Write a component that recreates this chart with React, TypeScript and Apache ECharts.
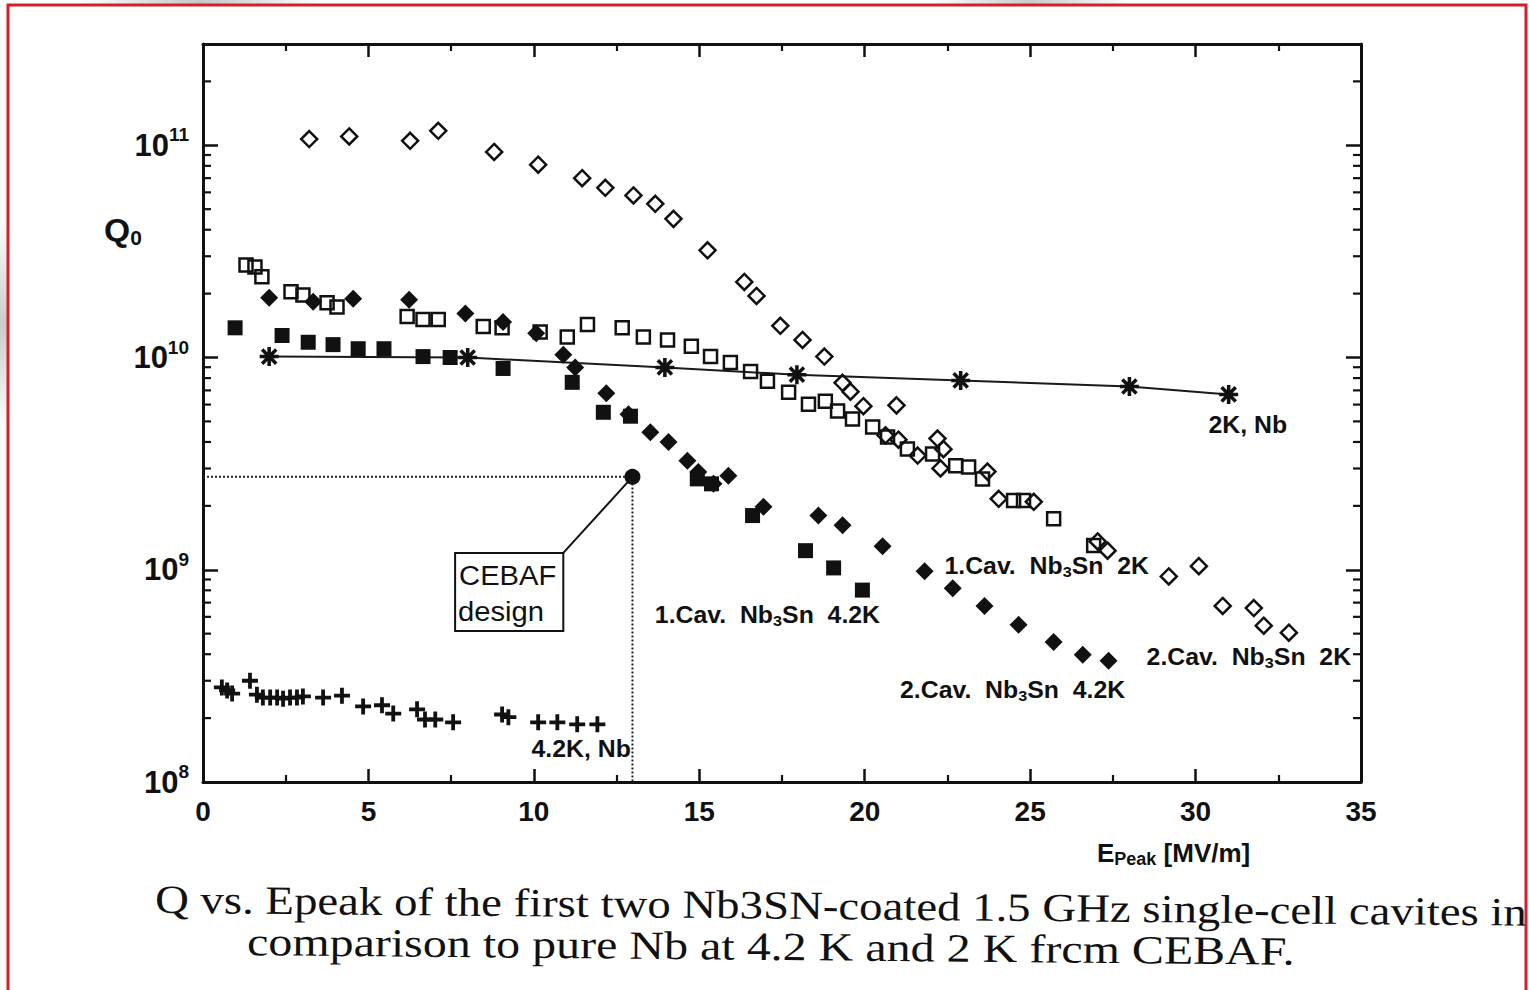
import { useEffect, useRef } from 'react';
import * as echarts from 'echarts';

const SANS = '"Liberation Sans", Arial, Helvetica, sans-serif';
const SERIF = '"Liberation Serif", "Times New Roman", Times, serif';
const INK = '#111111';

// Axis ranges
const E_MIN = 0;
const E_MAX = 35;
const E_STEP = 5;
const Q_MIN = 1e8;
const Q_MAX = 3e11;
const DECADE_MULTIPLIERS = [2, 3, 4, 5, 6, 7, 8, 9];

// [E_peak (MV/m), Q0]
// 2nd cavity, Nb3Sn, 2 K (open diamonds)
const cav2At2K: [number, number][] = [
  [3.21, 1.07e11], [4.42, 1.1e11], [6.26, 1.05e11], [7.11, 1.17e11], [8.8, 9.3e10],
  [10.13, 8.1e10], [11.46, 7.0e10], [12.16, 6.3e10], [13.01, 5.8e10], [13.67, 5.3e10],
  [14.22, 4.5e10], [15.25, 3.2e10], [16.36, 2.27e10], [16.73, 1.95e10], [17.45, 1.41e10],
  [18.12, 1.21e10], [18.78, 1.01e10], [19.33, 7.6e9], [19.57, 6.9e9], [19.96, 5.9e9],
  [20.96, 5.95e9], [20.63, 4.3e9], [21.02, 4.1e9], [21.6, 3.45e9], [22.2, 4.15e9],
  [22.38, 3.7e9], [22.29, 3.0e9], [23.71, 2.9e9], [24.05, 2.16e9], [25.11, 2.09e9],
  [27.04, 1.36e9], [27.34, 1.23e9], [29.19, 9.3e8], [30.1, 1.04e9], [30.82, 6.75e8],
  [31.76, 6.6e8], [32.06, 5.45e8], [32.82, 5.05e8],
];

// 1st cavity, Nb3Sn, 2 K (open squares)
const cav1At2K: [number, number][] = [
  [1.3, 2.73e10], [1.57, 2.67e10], [1.78, 2.4e10], [2.66, 2.04e10], [3.02, 1.97e10],
  [3.75, 1.81e10], [4.05, 1.73e10], [6.17, 1.56e10], [6.65, 1.51e10], [7.11, 1.51e10],
  [8.47, 1.4e10], [9.04, 1.38e10], [10.19, 1.32e10], [11.01, 1.25e10], [11.62, 1.43e10],
  [12.67, 1.38e10], [13.31, 1.25e10], [14.04, 1.21e10], [14.76, 1.13e10], [15.34, 1.01e10],
  [15.94, 9.47e9], [16.55, 8.6e9], [17.06, 7.72e9], [17.7, 6.86e9], [18.3, 6.02e9],
  [18.81, 6.22e9], [19.18, 5.59e9], [19.63, 5.13e9], [20.24, 4.7e9], [20.69, 4.22e9],
  [21.29, 3.71e9], [22.05, 3.51e9], [22.75, 3.09e9], [23.14, 3.05e9], [23.56, 2.68e9],
  [24.5, 2.12e9], [24.8, 2.12e9], [25.71, 1.74e9], [26.92, 1.3e9],
];

// 2nd cavity, Nb3Sn, 4.2 K (filled diamonds)
const cav2At42K: [number, number][] = [
  [2.0, 1.91e10], [3.33, 1.83e10], [4.54, 1.89e10], [6.23, 1.87e10], [7.93, 1.61e10],
  [9.07, 1.47e10], [10.07, 1.3e10], [10.89, 1.03e10], [11.25, 8.98e9], [12.19, 6.78e9],
  [12.86, 5.41e9], [13.52, 4.45e9], [14.07, 4.0e9], [14.64, 3.26e9], [14.97, 2.89e9],
  [15.43, 2.54e9], [15.88, 2.77e9], [16.94, 1.98e9], [18.6, 1.8e9], [19.33, 1.62e9],
  [20.54, 1.29e9], [21.81, 9.85e8], [22.66, 8.19e8], [23.62, 6.75e8], [24.65, 5.5e8],
  [25.71, 4.57e8], [26.59, 3.98e8], [27.37, 3.73e8],
];

// 1st cavity, Nb3Sn, 4.2 K (filled squares)
const cav1At42K: [number, number][] = [
  [0.97, 1.38e10], [2.39, 1.27e10], [3.18, 1.18e10], [3.93, 1.15e10], [4.69, 1.1e10],
  [5.47, 1.1e10], [6.65, 1.01e10], [7.47, 1.0e10], [9.07, 8.88e9], [11.16, 7.64e9],
  [12.1, 5.52e9], [12.92, 5.29e9], [14.94, 2.68e9], [15.37, 2.54e9], [16.61, 1.8e9],
  [18.21, 1.23e9], [19.06, 1.02e9], [19.93, 8.02e8],
];

// Pure Nb, 4.2 K (plus markers)
const nbAt42K: [number, number][] = [
  [0.57, 2.79e8], [0.73, 2.7e8], [0.88, 2.61e8], [1.42, 3.0e8], [1.63, 2.58e8],
  [1.81, 2.5e8], [2.03, 2.5e8], [2.24, 2.5e8], [2.42, 2.47e8], [2.63, 2.5e8],
  [2.84, 2.5e8], [3.02, 2.53e8], [3.63, 2.5e8], [4.2, 2.55e8], [4.84, 2.27e8],
  [5.41, 2.3e8], [5.75, 2.1e8], [6.47, 2.2e8], [6.71, 1.97e8], [7.02, 1.97e8],
  [7.56, 1.91e8], [9.04, 2.08e8], [9.23, 2.02e8], [10.13, 1.91e8], [10.71, 1.91e8],
  [11.31, 1.87e8], [11.92, 1.87e8],
];

// Pure Nb, 2 K (asterisks joined by a line)
const nbAt2K: [number, number][] = [
  [2.0, 1.01e10], [8.0, 1.0e10], [13.96, 8.98e9], [17.95, 8.3e9],
  [22.9, 7.8e9], [28.0, 7.3e9], [31.0, 6.7e9],
];

// CEBAF design goal
const cebafDesign: [number, number] = [12.98, 2.74e9];
const cebafLabel = ['CEBAF', 'design'];
// box corners [E, Q] (top-left, bottom-right) and the arrow from the box to the design point
const cebafBox: [number, number, number, number] = [7.62, 1.2e9, 10.89, 5.15e8];
const cebafArrow: [[number, number], [number, number]] = [[10.89, 1.2e9], [12.85, 2.6e9]];

// Curve annotations, centred at [E, Q]
const curveLabels: { text: string; at: [number, number] }[] = [
  { text: '2K, Nb', at: [31.58, 4.8e9] },
  { text: '1.Cav.  Nb3Sn  2K', at: [25.5, 1.04e9] },
  { text: '2.Cav.  Nb3Sn  2K', at: [31.61, 3.89e8] },
  { text: '2.Cav.  Nb3Sn  4.2K', at: [24.47, 2.73e8] },
  { text: '1.Cav.  Nb3Sn  4.2K', at: [17.06, 6.12e8] },
  { text: '4.2K, Nb', at: [11.43, 1.43e8] },
];

const captionLines = [
  'Q vs. Epeak of the first two Nb3SN-coated 1.5 GHz single-cell cavites in',
  'comparison to pure Nb at 4.2 K and 2 K frcm CEBAF.',
];

// Log-axis minor tick positions (2..9 × 10^n)
const minorTickValues: number[] = [];
for (let d = Math.log10(Q_MIN); d <= 11; d++) {
  for (const m of DECADE_MULTIPLIERS) {
    const v = m * Math.pow(10, d);
    if (v < Q_MAX) minorTickValues.push(v);
  }
}

const PLUS = 'path://M6.1,0H9.9V6.1H16V9.9H9.9V16H6.1V9.9H0V6.1H6.1Z';
const STAR =
  'path://M0,6.5H16V9.5H0Z M6.5,0H9.5V16H6.5Z M1.0,3.1L3.1,1.0L15.0,12.9L12.9,15.0Z M12.9,1.0L15.0,3.1L3.1,15.0L1.0,12.9Z';

const openStyle = { color: 'rgba(0,0,0,0)', borderColor: INK, borderWidth: 2.5, opacity: 1 };
const filledStyle = { color: INK, opacity: 1 };

const axisLine = { show: true, onZero: false, lineStyle: { color: INK, width: 3 } };

function buildOption(): echarts.EChartsOption {
  const xAxisBase = {
    type: 'value' as const,
    min: E_MIN,
    max: E_MAX,
    interval: E_STEP,
    axisLine,
    axisTick: { show: true, inside: true, length: 13, lineStyle: { color: INK, width: 2.5 } },
    minorTick: { show: true, splitNumber: 2, length: 7, lineStyle: { color: INK, width: 2.2 } },
    splitLine: { show: false },
  };
  const yAxisBase = {
    type: 'log' as const,
    logBase: 10,
    min: Q_MIN,
    max: Q_MAX,
    axisLine,
    axisTick: { show: true, inside: true, length: 15, lineStyle: { color: INK, width: 2.5 } },
    splitLine: { show: false },
    minorTick: { show: false },
  };

  return {
    animation: false,
    backgroundColor: '#ffffff',
    grid: { left: 203, right: 168, top: 44, bottom: 208, containLabel: false },
    xAxis: [
      {
        ...xAxisBase,
        position: 'bottom',
        axisLabel: {
          show: true,
          margin: 15,
          color: INK,
          fontFamily: SANS,
          fontWeight: 'bold',
          fontSize: 28,
        },
      },
      { ...xAxisBase, position: 'top', axisLabel: { show: false } },
    ],
    yAxis: [
      {
        ...yAxisBase,
        position: 'left',
        axisLabel: {
          show: true,
          margin: 14,
          formatter: (v: number) => {
            const e = Math.log10(v);
            const r = Math.round(e);
            if (Math.abs(e - r) > 1e-6) return '';
            return `{b|10}{p|${r}}`;
          },
          rich: {
            b: { fontSize: 31, fontWeight: 'bold', fontFamily: SANS, color: INK, lineHeight: 40 },
            p: {
              fontSize: 19,
              fontWeight: 'bold',
              fontFamily: SANS,
              color: INK,
              verticalAlign: 'top',
              lineHeight: 19,
            },
          },
        },
      },
      { ...yAxisBase, position: 'right', axisLabel: { show: false } },
    ],
    series: [
      {
        name: 'CEBAF guide',
        type: 'line',
        data: [[E_MIN, cebafDesign[1]], cebafDesign, [cebafDesign[0], Q_MIN]],
        symbol: 'none',
        silent: true,
        lineStyle: { type: 'dotted', width: 2, color: '#222' },
        z: 1,
      },
      {
        name: 'Log minor ticks',
        type: 'custom',
        silent: true,
        data: minorTickValues.map((v) => [E_MIN, v]),
        encode: { x: 0, y: 1 },
        renderItem: (params: any, api: any) => {
          const p = api.coord([E_MIN, api.value(1)]);
          const cs = params.coordSys;
          const len = 8;
          return {
            type: 'group',
            children: [
              {
                type: 'line',
                shape: { x1: cs.x, y1: p[1], x2: cs.x + len, y2: p[1] },
                style: { stroke: INK, lineWidth: 2.2 },
              },
              {
                type: 'line',
                shape: { x1: cs.x + cs.width - len, y1: p[1], x2: cs.x + cs.width, y2: p[1] },
                style: { stroke: INK, lineWidth: 2.2 },
              },
            ],
          };
        },
        z: 2,
      },
      {
        name: '2K, Nb',
        type: 'line',
        data: nbAt2K,
        symbol: STAR,
        symbolSize: 19,
        itemStyle: filledStyle,
        lineStyle: { color: '#1a1a1a', width: 2 },
        z: 3,
      },
      {
        name: '2.Cav. Nb3Sn 2K',
        type: 'scatter',
        data: cav2At2K,
        symbol: 'diamond',
        symbolSize: 16,
        itemStyle: openStyle,
        z: 4,
      },
      {
        name: '1.Cav. Nb3Sn 2K',
        type: 'scatter',
        data: cav1At2K,
        symbol: 'rect',
        symbolSize: 13,
        itemStyle: openStyle,
        z: 4,
      },
      {
        name: '2.Cav. Nb3Sn 4.2K',
        type: 'scatter',
        data: cav2At42K,
        symbol: 'diamond',
        symbolSize: 18,
        itemStyle: filledStyle,
        z: 4,
      },
      {
        name: '1.Cav. Nb3Sn 4.2K',
        type: 'scatter',
        data: cav1At42K,
        symbol: 'rect',
        symbolSize: 15,
        itemStyle: filledStyle,
        z: 4,
      },
      {
        name: '4.2K, Nb',
        type: 'scatter',
        data: nbAt42K,
        symbol: PLUS,
        symbolSize: 16,
        itemStyle: filledStyle,
        z: 4,
      },
      {
        name: 'CEBAF design',
        type: 'scatter',
        data: [cebafDesign],
        symbol: 'circle',
        symbolSize: 16,
        itemStyle: filledStyle,
        z: 5,
        markLine: {
          silent: true,
          symbol: ['none', 'arrow'],
          symbolSize: [0, 11],
          label: { show: false },
          lineStyle: { type: 'solid', color: INK, width: 2, opacity: 1 },
          data: [[{ coord: cebafArrow[0] }, { coord: cebafArrow[1] }]] as any,
        },
      },
      {
        name: 'CEBAF box',
        type: 'custom',
        silent: true,
        data: [cebafBox],
        encode: { x: [0, 2], y: [1, 3] },
        renderItem: (_params: any, api: any) => {
          const tl = api.coord([api.value(0), api.value(1)]);
          const br = api.coord([api.value(2), api.value(3)]);
          const textStyle = { fontSize: 27, fontFamily: SANS, fill: INK, verticalAlign: 'middle' };
          return {
            type: 'group',
            children: [
              {
                type: 'rect',
                shape: { x: tl[0], y: tl[1], width: br[0] - tl[0], height: br[1] - tl[1] },
                style: { fill: '#fff', stroke: INK, lineWidth: 2 },
              },
              {
                type: 'text',
                x: tl[0] + 4,
                y: tl[1] + 23,
                scaleX: 1.08,
                style: { ...textStyle, text: cebafLabel[0] },
              },
              {
                type: 'text',
                x: tl[0] + 3,
                y: tl[1] + 59,
                scaleX: 1.08,
                style: { ...textStyle, text: cebafLabel[1] },
              },
            ],
          };
        },
        z: 6,
      },
      {
        name: 'Curve labels',
        type: 'custom',
        silent: true,
        data: curveLabels.map((l) => l.at),
        encode: { x: 0, y: 1 },
        renderItem: (params: any, api: any) => {
          const p = api.coord([api.value(0), api.value(1)]);
          const text = curveLabels[params.dataIndex].text.replace('Nb3Sn', 'Nb{s|3}Sn');
          return {
            type: 'text',
            x: p[0],
            y: p[1],
            scaleX: 1.08,
            style: {
              text,
              fill: INK,
              fontSize: 23,
              fontWeight: 'bold',
              fontFamily: SANS,
              lineHeight: 27,
              align: 'center',
              verticalAlign: 'middle',
              rich: {
                s: {
                  fontSize: 15,
                  fontWeight: 'bold',
                  fontFamily: SANS,
                  fill: INK,
                  verticalAlign: 'bottom',
                  lineHeight: 11,
                },
              },
            },
          };
        },
        z: 7,
      },
    ],
    graphic: [
      // scanner shading along the top and left edges
      {
        type: 'rect',
        silent: true,
        shape: { x: 80, y: 0, width: 240, height: 6 },
        style: {
          fill: new echarts.graphic.LinearGradient(0, 0, 1, 0, [
            { offset: 0, color: 'rgba(150,150,150,0)' },
            { offset: 0.5, color: 'rgba(150,150,150,0.55)' },
            { offset: 1, color: 'rgba(150,150,150,0)' },
          ]),
        },
        z: 99,
      },
      {
        type: 'rect',
        silent: true,
        shape: { x: 930, y: 0, width: 200, height: 6 },
        style: {
          fill: new echarts.graphic.LinearGradient(0, 0, 1, 0, [
            { offset: 0, color: 'rgba(150,150,150,0)' },
            { offset: 0.5, color: 'rgba(150,150,150,0.5)' },
            { offset: 1, color: 'rgba(150,150,150,0)' },
          ]),
        },
        z: 99,
      },
      {
        type: 'rect',
        silent: true,
        shape: { x: 0, y: 220, width: 8, height: 210 },
        style: {
          fill: new echarts.graphic.LinearGradient(0, 0, 0, 1, [
            { offset: 0, color: 'rgba(150,150,150,0)' },
            { offset: 0.5, color: 'rgba(150,150,150,0.5)' },
            { offset: 1, color: 'rgba(150,150,150,0)' },
          ]),
        },
        z: 99,
      },
      // page frame
      {
        type: 'rect',
        silent: true,
        shape: { x: 8, y: 5, width: 1518, height: 1010 },
        style: { fill: 'none', stroke: '#d3202b', lineWidth: 3 },
        z: 100,
      },
      // Q0 axis title
      {
        type: 'text',
        x: 104,
        y: 230,
        scaleX: 1.05,
        style: {
          text: '{q|Q}{z|0}',
          verticalAlign: 'middle',
          rich: {
            q: { fontSize: 32, fontWeight: 'bold', fontFamily: SANS, fill: INK, lineHeight: 36 },
            z: {
              fontSize: 20,
              fontWeight: 'bold',
              fontFamily: SANS,
              fill: INK,
              verticalAlign: 'bottom',
              lineHeight: 16,
            },
          },
        },
      },
      // E_peak axis title
      {
        type: 'text',
        x: 1097,
        y: 853,
        style: {
          text: '{e|E}{p|Peak}{e| [MV/m]}',
          verticalAlign: 'middle',
          rich: {
            e: { fontSize: 26, fontWeight: 'bold', fontFamily: SANS, fill: INK, lineHeight: 30 },
            p: {
              fontSize: 18,
              fontWeight: 'bold',
              fontFamily: SANS,
              fill: INK,
              verticalAlign: 'bottom',
              lineHeight: 12,
            },
          },
        },
      },
      // caption
      {
        type: 'text',
        x: 155,
        y: 899,
        rotation: -0.0095,
        scaleX: 1.17,
        style: {
          text: captionLines[0],
          fontSize: 40,
          fontFamily: SERIF,
          fill: '#111',
          verticalAlign: 'middle',
        },
      },
      {
        type: 'text',
        x: 247,
        y: 942,
        rotation: -0.0095,
        scaleX: 1.2,
        style: {
          text: captionLines[1],
          fontSize: 40,
          fontFamily: SERIF,
          fill: '#111',
          verticalAlign: 'middle',
        },
      },
    ],
  } as echarts.EChartsOption;
}

export default function App() {
  const ref = useRef<HTMLDivElement>(null);

  useEffect(() => {
    document.body.style.margin = '0';
    if (!ref.current) return;
    const chart = echarts.init(ref.current, undefined, { renderer: 'svg' });
    chart.setOption(buildOption());
    return () => chart.dispose();
  }, []);

  return <div ref={ref} style={{ width: 1529, height: 990, background: '#fff' }} />;
}
